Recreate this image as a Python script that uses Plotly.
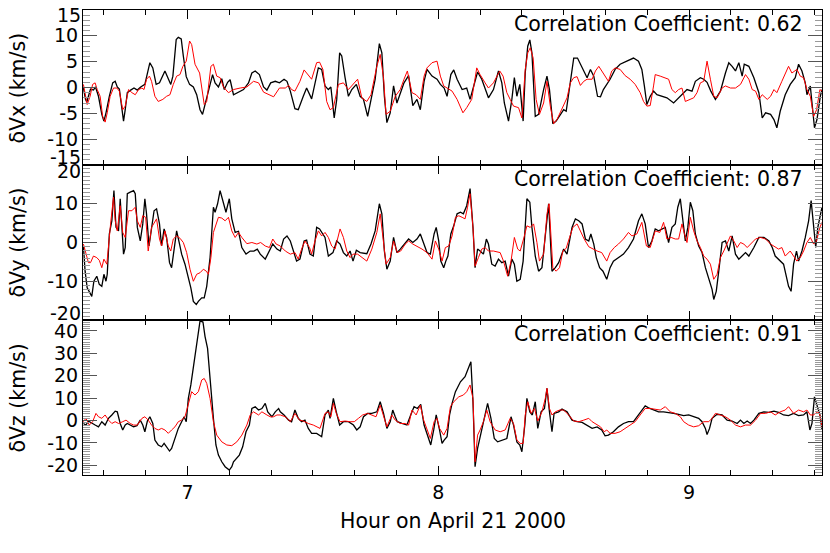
import plotly.graph_objects as go

# Time in minutes after 06:00 UT on April 21 2000, velocity perturbations in km/s.
# Black = observed, red = model.
VX_OBS = [(35.1,-0.1),(35.6,-2.3),(35.9,-2.8),(36.4,-1.4),(36.8,-0.3),(37.5,-0.5),(38.0,0.1),(38.7,-1.7),(39.5,-5.2),(40.0,-6.5),
          (40.5,-4.9),(41.3,-1.7),(42.1,0.9),(42.7,1.2),(43.2,0.1),(43.7,-0.3),(44.3,-4.3),(44.7,-6.5),(45.1,-4.3),(45.6,-1.0),
          (46.4,-0.5),(47.2,-0.1),(48.0,-0.5),(48.8,0.1),(49.8,0.6),(50.2,1.9),(51.0,4.8),(51.7,3.8),(52.5,0.6),(53.3,0.9),
          (54.1,2.5),(54.6,3.2),(55.3,1.9),(56.0,0.6),(56.5,2.2),(57.3,9.3),(57.8,9.7),(58.5,9.4),(59.0,6.1),(59.7,2.1),
          (60.5,0.6),(61.4,0.1),(62.2,-1.4),(63.0,-4.3),(63.6,-5.2),(64.2,-3.3),(65.4,0.9),(66.0,2.5),(66.6,0.9),(67.4,0.1),
          (68.2,1.7),(68.8,-0.4),(69.6,1.0),(70.2,1.5),(71.0,-1.4),(72.0,-1.0),(73.4,-0.4),(74.6,0.9),(75.4,2.8),(76.2,3.2),
          (77.2,2.5),(78.2,0.1),(79.0,-0.5),(79.9,0.9),(81.0,1.2),(82.0,0.9),
          (83.1,1.6),(83.8,1.2),(84.6,-0.7),(85.7,-4.1),(86.5,-4.3),(87.7,-1.7),(88.5,-0.1),(89.7,-2.2),(90.5,0.9),(91.3,3.8),
          (92.1,3.5),(92.9,0.3),(93.7,-0.4),(94.3,0.1),(95.1,-5.9),(95.7,-2.3),(96.4,6.7),(96.9,6.1),(97.7,1.9),(98.5,-1.7),
          (99.3,-0.4),(100.4,0.6),(101.3,-1.7),(102.1,-2.3),(103.1,-5.6),(103.9,-2.3),(104.9,1.6),(105.9,8.5),(106.5,6.7),(107.1,-1.7),
          (107.7,-6.8),(108.5,-4.9),(109.3,0.3),(110.1,-3.0),(110.9,-1.0),(111.8,0.9),(112.9,2.3),(113.9,-3.5),(114.9,-2.3),(115.7,-4.3),
          (116.6,1.2),(117.3,3.5),(118.5,2.2),(119.7,1.6),(120.5,0.6),(121.4,-0.1),(122.1,-1.7),(123.0,2.5),(123.7,3.4),(124.5,1.6),
          (125.7,-0.4),(126.8,-0.1),(127.6,-2.3),(128.4,0.3),(129.4,3.0),(130.4,1.6),(131.2,-0.4),(132.0,-2.0),(133.2,-0.4),(134.4,3.2),
          (135.2,0.9),(135.8,-3.0),(136.8,-6.5),(137.6,-2.3),(138.2,1.9),(138.8,-1.7),(139.5,0.6),(140.3,-6.5),(140.8,2.8),(141.4,8.0),
          (141.9,9.2),(142.4,6.7),(143.2,-5.6),(144.0,-5.2),(145.2,-0.4),(146.0,2.2),(146.6,-0.4),
          (147.4,-7.0),(148.2,-6.5),(149.0,-5.6),(150.0,-4.3),(150.6,-4.6),(151.4,-0.4),(152.4,5.7),(153.3,5.7),(154.4,3.8),(155.6,1.9),
          (156.4,3.5),(157.2,2.2),(158.1,-1.7),(158.8,-1.8),(159.5,-0.4),(160.3,0.6),(161.1,1.6),(162.3,3.5),(163.5,4.5),(165.1,5.1),
          (166.7,5.7),(167.9,5.1),(168.7,3.5),(169.3,0.3),(169.9,-3.3),(170.7,-1.7),(171.5,-0.7),(172.3,-1.4),(173.5,-1.7),(174.7,-2.0),
          (176.3,-3.0),(177.1,-2.3),(178.3,-1.4),(179.5,-0.4),(180.7,-0.7),(181.5,1.2),(182.7,1.9),(183.5,1.6),(184.3,1.0),(185.2,-0.7),
          (186.3,-2.3),(187.5,-0.7),(188.7,2.8),(189.5,4.8),(190.3,4.1),(191.1,3.2),(191.9,4.8),(192.7,2.2),(193.2,4.5),(194.3,4.1),
          (195.5,1.9),(196.7,-1.0),(197.5,-5.9),(198.3,-4.9),(199.5,-5.2),(200.3,-6.2),(201.0,-7.8),(201.8,-4.6),(203.0,-1.4),(204.2,0.6),
          (205.4,1.9),(206.2,4.5),(207.0,3.2),(207.8,0.9),(208.2,-1.4),(209.0,0.3),(210.0,-7.8),(210.6,-6.2),(211.4,-1.7),(211.8,-0.4)]

VX_MOD = [(35.1,0.6),(35.5,-1.0),(36.0,-3.3),(36.7,-1.7),(37.3,0.6),(37.9,0.9),(38.4,-0.4),(39.1,-1.7),(39.7,-5.6),(40.3,-6.7),
          (40.8,-4.9),(41.5,-1.7),(42.3,-0.1),(43.1,-0.1),(43.7,-0.7),(44.5,-4.3),(45.1,-3.6),(45.9,-0.4),(46.7,-1.0),(47.5,-1.4),
          (48.3,-0.4),(49.1,-0.1),(49.6,-0.4),(50.2,1.6),(50.9,2.2),(51.4,1.2),(52.2,-1.7),(53.0,-2.7),(54.1,-2.3),(55.0,-1.7),
          (55.8,-1.4),(56.6,0.6),(57.4,2.2),(58.2,2.5),(58.9,4.1),(59.7,5.1),(60.5,9.0),(61.0,8.3),(61.8,4.5),(62.9,2.8),
          (64.0,-3.3),(64.6,-2.7),(65.6,4.1),(66.2,4.5),(67.0,2.2),(67.8,1.9),(68.6,0.1),(69.8,-1.0),(71.0,-0.4),(72.6,-0.1),
          (74.2,0.1),(75.8,1.2),(77.0,0.9),(78.2,-0.9),(79.0,-1.2),(80.6,-1.8),(82.0,-0.1),
          (83.4,-0.1),(84.2,0.4),(84.9,-0.4),(85.7,-0.7),(86.9,1.2),(87.9,3.4),(88.5,2.8),(89.7,1.6),(90.9,4.8),(91.6,4.9),
          (92.4,3.5),(93.3,-2.7),(94.1,-4.3),(94.9,-3.9),(96.1,0.6),(97.3,0.9),(98.5,-0.4),(99.6,0.6),(100.7,1.6),(101.7,-2.0),
          (102.9,-2.7),(103.9,-1.4),(105.3,4.1),(106.1,6.4),(106.9,1.9),(107.5,-5.2),(108.5,-4.6),(109.7,-1.7),(110.9,-0.4),(111.8,1.6),
          (112.6,3.2),(113.7,-1.0),(114.7,-1.4),(115.7,-2.3),(116.6,2.2),(117.3,3.8),(118.5,4.8),(119.7,5.1),(120.5,2.2),(121.3,0.3),
          (122.1,-0.1),(123.3,-0.7),(124.5,-2.3),(125.9,-4.9),(126.8,-3.9),(128.0,-2.3),(129.2,3.8),(130.0,2.5),(131.2,0.9),(132.0,-0.1),
          (133.2,0.9),(134.7,3.2),(135.5,2.2),(136.4,-1.0),(137.2,-2.3),(138.0,-3.6),(139.2,-3.9),(140.0,-5.9),(140.8,3.5),(141.4,6.7),
          (142.0,7.7),(142.7,5.7),(143.4,-2.3),(144.2,-5.2),(145.2,-3.0),(146.0,1.2),
          (146.8,-3.6),(147.6,-7.0),(148.4,-6.2),(149.2,-4.9),(150.0,-3.6),(150.8,-2.0),(151.6,0.9),(152.4,1.9),(153.2,2.1),(154.0,0.4),
          (154.8,1.2),(155.6,1.6),(156.8,1.6),(157.6,3.2),(158.4,4.1),(159.1,3.2),(159.9,2.2),(160.7,1.2),(161.5,3.2),(162.3,3.8),
          (163.5,3.5),(164.7,2.3),(165.9,1.6),(167.1,0.6),(168.3,-1.0),(169.1,-2.7),(169.9,-3.6),(170.7,-3.5),(171.5,0.3),(171.9,2.5),
          (173.1,2.2),(174.3,1.9),(175.1,1.6),(175.9,-0.4),(176.7,-1.0),(177.5,-0.4),(178.3,-0.1),(179.1,-2.7),(180.3,-2.3),(181.1,-2.0),
          (181.9,-1.0),(182.7,0.9),(183.5,1.2),(184.3,5.1),(185.1,1.6),(185.9,-1.7),(186.7,-2.0),(187.9,-0.1),(188.7,0.3),(189.9,-0.1),
          (191.1,-0.1),(192.3,0.6),(193.5,2.5),(194.3,1.6),(195.1,-0.4),(195.9,-0.7),(196.7,-2.3),(197.5,-1.4),(198.7,-2.3),(199.5,-1.7),
          (200.3,-0.4),(201.0,-1.0),(202.2,1.2),(203.8,4.1),(204.6,2.8),(205.8,3.5),(206.6,2.2),(207.4,1.9),(208.2,-0.4),(209.0,-1.7),
          (209.8,-5.6),(210.5,-4.3),(211.3,-0.4),(211.8,-0.7)]

VY_OBS = [(35.1,-0.9),(35.5,-7.4),(36.0,-11.7),(36.7,-13.4),(37.1,-13.9),(37.6,-10.0),(38.3,-8.7),(38.9,-10.8),(39.5,-11.3),(40.0,-8.2),
          (40.5,-10.0),(40.8,-8.2),(41.3,2.2),(41.9,5.6),(42.4,13.4),(42.9,3.9),(43.5,3.0),(43.9,11.3),(44.3,3.9),(44.7,-3.0),
          (45.1,-1.3),(45.6,12.6),(46.3,13.0),(47.1,13.4),(47.5,12.6),(48.0,3.9),(48.7,0.4),(49.3,4.8),(49.8,11.3),(50.2,7.4),
          (50.8,-0.9),(51.4,4.3),(52.0,8.2),(52.6,8.7),(53.3,4.8),(53.8,-0.9),(54.4,3.5),(55.0,1.3),(55.7,-5.2),(56.2,-6.5),
          (56.8,-2.2),(57.4,3.0),(58.1,-0.4),(58.6,-3.0),(59.4,-5.6),(60.2,-8.7),(60.8,-11.7),(61.4,-15.2),(62.1,-16.0),(62.6,-15.2),
          (63.4,-14.3),(64.0,-14.3),(64.6,-11.3),(65.4,-3.9),(66.2,9.1),(66.6,7.8),(67.2,10.0),(67.8,13.4),(68.4,10.8),(69.2,7.8),
          (70.0,11.3),(70.6,6.1),(71.4,2.6),(72.2,2.9),(73.0,-1.3),(74.0,-3.0),(75.0,-2.2),(75.9,-2.2),(76.7,-1.7),(77.4,-3.0),
          (78.6,-4.3),(79.6,-2.2),(80.4,-0.4),(81.4,-1.7),(82.2,-2.2),
          (83.0,0.9),(83.8,1.7),(84.6,0.4),(85.3,-2.2),(86.1,-4.8),(86.9,-4.3),(87.9,0.4),(88.5,0.6),(89.3,-3.0),(90.1,-3.5),
          (90.9,3.9),(91.6,3.5),(92.1,2.6),(92.9,1.3),(93.7,-3.5),(94.8,-2.6),(95.7,0.4),(96.5,-0.4),(97.3,-2.6),(98.1,-3.5),
          (98.9,-2.2),(99.6,-4.8),(100.4,-2.0),(101.3,-2.6),(102.9,-2.9),(103.9,-0.4),(104.9,3.0),(105.9,10.0),(106.5,7.4),(107.1,-2.2),
          (107.7,-6.9),(108.5,-4.8),(109.3,1.3),(110.1,-2.6),(110.9,-1.7),(111.8,-0.4),(112.9,0.9),(113.9,0.0),(114.9,0.9),(115.7,2.2),
          (116.5,-0.4),(117.3,-2.6),(118.1,-3.0),(119.0,2.2),(119.5,3.9),(120.1,0.4),(120.6,-4.8),(121.3,-6.5),(121.8,-4.8),(122.3,-3.5),
          (123.0,2.2),(123.7,4.3),(124.5,7.4),(125.3,7.8),(126.0,7.4),(126.8,9.5),(127.6,13.9),(128.3,3.9),(128.8,-6.5),(129.4,-1.7),
          (130.0,-2.2),(130.8,-3.0),(131.5,0.9),(132.0,-0.4),(132.8,-5.6),(133.6,-6.1),(134.4,-4.3),(135.2,-5.2),(136.0,-4.8),(136.8,-8.7),
          (137.6,-4.3),(138.2,-5.6),(138.8,-10.0),(139.6,-9.5),(140.3,-4.8),(140.8,6.1),(141.2,11.3),(141.9,10.4),(142.4,3.9),(143.2,-3.5),
          (144.0,-7.4),(144.8,-6.5),(145.6,1.7),(146.0,5.6),(146.4,10.0),
          (147.2,-7.4),(148.0,-6.5),(148.8,-5.2),(149.3,-3.9),(150.0,-1.7),(150.8,-3.0),(151.4,0.4),(152.0,3.9),(152.8,6.1),(153.6,5.6),
          (154.4,4.8),(155.2,0.9),(156.0,0.4),(156.5,2.2),(157.2,-0.4),(157.8,-3.9),(158.6,-6.5),(159.4,-7.4),(160.3,-9.5),(161.1,-6.5),
          (161.9,-4.8),(163.1,-3.9),(164.3,-3.0),(165.5,-1.3),(166.7,0.9),(167.9,5.6),(168.7,7.4),(169.5,4.8),(170.3,-1.3),(171.1,0.4),
          (171.9,3.5),(172.7,3.0),(173.5,3.5),(174.3,3.9),(175.1,0.0),(175.9,3.9),(176.7,4.8),(177.3,9.1),(177.9,11.3),(178.5,5.6),
          (179.1,0.4),(179.7,3.9),(180.3,10.4),(180.9,8.2),(181.5,2.2),(182.3,-0.9),(183.1,-2.6),(183.9,-6.5),(184.7,-9.5),(185.5,-12.1),
          (185.9,-14.7),(186.5,-12.6),(187.1,-7.4),(187.9,0.0),(188.7,0.4),(189.5,-2.2),(190.3,1.7),(191.1,-3.0),(191.9,-4.3),(192.7,-3.5),
          (193.5,-2.6),(194.3,-3.5),(195.5,-1.3),(196.7,1.3),(197.9,1.3),(199.1,0.4),(199.9,-1.3),(200.6,-3.5),(201.4,-4.3),(202.6,-5.6),
          (203.8,-11.3),(204.4,-12.6),(205.0,-5.6),(205.7,-2.2),(206.2,-4.8),(207.0,-2.2),(207.8,1.3),(208.6,5.6),(209.2,10.8),(209.8,3.9),
          (210.3,-1.3),(210.8,3.9),(211.4,7.4),(211.8,9.1)]

VY_MOD = [(35.1,-0.4),(35.7,-3.0),(36.3,-5.2),(36.8,-5.2),(37.5,-3.5),(38.3,-3.9),(38.9,-4.6),(39.5,-6.5),(40.0,-4.3),(40.7,-5.6),
          (41.1,-0.4),(41.6,4.8),(42.3,11.7),(42.7,5.6),(43.2,3.0),(43.9,9.5),(44.5,2.6),(45.1,1.3),(45.9,8.2),(46.7,8.2),
          (47.5,9.1),(48.0,5.6),(48.7,3.9),(49.3,6.9),(50.0,6.5),(50.6,-2.2),(51.4,3.9),(52.0,5.2),(52.6,6.1),(53.3,0.9),
          (53.8,-0.9),(54.6,3.0),(55.4,-0.9),(56.0,-2.2),(56.6,0.9),(57.4,1.7),(58.2,1.1),(59.0,0.0),(59.8,-2.6),(60.6,-6.9),
          (61.4,-10.0),(62.2,-8.2),(63.0,-7.8),(63.8,-6.9),(64.5,-7.4),(65.0,-8.2),(65.6,-3.9),(66.2,2.6),(66.8,4.3),(67.4,6.5),
          (68.2,6.3),(69.0,5.6),(69.8,6.5),(70.6,3.0),(71.4,1.3),(72.2,2.6),(73.0,1.3),(74.2,-0.3),(75.4,0.0),(76.6,-0.4),
          (77.5,0.0),(78.6,-0.9),(79.6,-1.3),(80.4,0.9),(81.2,-0.4),(82.2,-0.9),
          (83.4,-2.2),(84.6,-3.0),(85.7,-2.6),(86.5,-4.3),(87.3,-1.7),(88.1,0.4),(89.2,-1.3),(89.7,-3.0),(90.5,0.4),(91.3,3.0),
          (92.1,1.7),(92.9,2.6),(93.7,1.3),(94.5,-0.9),(95.3,-1.7),(96.5,3.5),(97.3,1.3),(98.1,-2.2),(98.9,-3.9),(99.6,-3.0),
          (100.7,-3.0),(101.7,-3.9),(102.9,-4.8),(104.1,-1.7),(105.3,2.6),(106.1,7.4),(106.9,0.4),(107.5,-5.6),(108.5,-3.9),(109.3,0.4),
          (110.2,-2.6),(111.0,-2.2),(112.1,-0.4),(112.9,0.4),(113.9,-0.4),(114.9,-0.9),(116.1,-1.7),(117.3,-2.6),(118.5,-4.3),(119.3,0.4),
          (120.1,-1.7),(120.9,-4.8),(121.7,-1.3),(122.5,-0.9),(123.3,1.7),(124.1,6.5),(124.9,6.9),(125.7,6.5),(126.4,6.1),(127.0,9.1),
          (127.6,12.6),(128.3,3.9),(128.8,-6.1),(129.6,-3.9),(130.4,-1.7),(131.2,-1.3),(132.0,-2.2),(133.2,-2.2),(134.8,-2.6),(135.6,-4.8),
          (136.6,-8.7),(137.4,-4.8),(138.2,1.3),(139.0,-1.7),(139.6,-2.2),(140.4,0.9),(141.2,4.3),(142.0,3.9),(142.8,4.8),(143.6,0.0),
          (144.2,-4.8),(145.2,-3.0),(146.0,7.4),(146.5,10.0),
          (147.4,-6.5),(148.2,-7.4),(149.0,-6.5),(149.8,-2.2),(150.6,-1.5),(151.4,1.3),(152.2,3.9),(153.2,4.8),(154.0,3.0),(154.9,0.9),
          (156.0,-1.1),(157.0,-1.7),(158.0,-2.2),(159.1,-2.6),(160.3,-4.8),(161.1,-2.6),(162.1,-1.3),(163.1,-0.4),(164.3,0.9),(165.5,2.6),
          (166.3,1.7),(167.5,2.2),(168.7,5.2),(169.8,-0.9),(170.7,-1.3),(171.9,3.0),(173.0,2.6),(173.9,5.2),(174.7,0.9),(175.7,1.3),
          (176.7,0.9),(177.5,0.9),(178.3,4.8),(178.9,2.2),(179.5,0.0),(180.3,6.5),(181.1,3.0),(181.9,0.4),(182.7,-1.3),(183.5,-3.5),
          (184.3,-4.3),(185.1,-5.6),(185.9,-9.5),(186.7,-8.2),(187.5,-3.9),(188.3,-2.2),(189.1,-0.4),(189.9,1.7),(190.7,0.4),(191.5,-1.3),
          (192.3,0.0),(193.1,-0.4),(193.9,-1.3),(194.8,-0.4),(195.9,0.9),(197.1,1.3),(198.3,0.9),(199.5,-0.4),(200.3,-0.9),(201.4,-1.7),
          (202.2,-1.3),(203.0,-3.5),(204.2,-2.2),(205.0,-3.5),(205.8,-4.8),(206.6,-3.9),(207.4,-2.2),(208.2,0.0),(209.0,1.3),(209.8,-0.4),
          (210.5,0.4),(211.3,3.9),(211.8,5.2)]

VZ_OBS = [(35.1,-1.3),(35.7,-2.0),(36.3,-0.2),(37.1,-1.3),(37.9,-2.0),(38.7,-2.8),(39.5,-0.5),(40.3,-2.0),(41.1,1.0),(41.9,2.5),
          (42.7,4.2),(43.2,3.9),(43.9,-1.3),(44.5,-4.2),(45.1,-2.0),(45.6,-1.3),(46.3,-2.0),(47.1,-2.8),(47.9,-2.3),(48.7,0.2),
          (49.3,-2.0),(49.8,-5.0),(50.4,-0.2),(51.0,1.7),(51.7,-1.3),(52.2,-8.7),(53.0,-10.9),(53.8,-11.7),(54.4,-10.2),(55.0,-11.7),
          (55.7,-13.6),(56.2,-12.4),(57.0,-8.0),(57.8,-3.5),(58.6,-0.5),(59.2,1.7),(59.7,-0.5),(60.2,9.9),(60.8,15.9),(61.4,23.3),
          (62.1,32.2),(62.6,39.5),(63.0,44.5),(63.7,44.0),(64.2,37.5),(64.8,32.2),(65.4,17.3),(66.2,1.0),(66.8,-10.9),(67.4,-15.4),
          (68.2,-18.4),(69.0,-20.6),(70.0,-22.1),(70.6,-20.6),(71.0,-18.4),(71.8,-16.9),(72.4,-15.4),(73.2,-11.7),(74.0,-5.0),(74.8,-2.0),
          (75.4,5.4),(76.2,6.2),(77.0,4.7),(77.8,5.4),(78.6,7.7),(79.2,3.9),(80.2,1.7),(81.0,3.9),(81.8,5.4),
          (82.2,3.9),(83.1,2.5),(84.2,0.2),(84.9,-0.5),(85.7,4.7),(86.5,1.0),(87.3,-0.5),(88.1,0.2),(88.9,-3.5),(89.7,-5.7),
          (90.9,-5.7),(92.1,-7.2),(92.9,2.5),(93.7,4.7),(94.1,1.0),(94.9,9.9),(95.6,3.9),(96.4,-2.0),(97.3,-0.5),(98.5,-0.5),
          (99.7,-2.0),(100.5,-4.2),(101.3,-2.8),(102.1,1.7),(103.1,3.2),(104.1,3.2),(105.3,3.9),(106.1,8.4),(106.9,3.2),(107.7,-3.5),
          (108.5,-0.5),(109.1,4.7),(109.7,1.7),(110.2,-0.5),(111.3,-1.3),(112.5,-2.0),(113.4,2.5),(114.2,6.2),(115.0,5.4),(115.8,7.2),
          (116.6,-2.0),(117.3,-5.7),(118.2,-10.9),(118.9,-4.2),(119.5,2.5),(120.3,-4.2),(120.9,-10.2),(121.4,-8.7),(122.1,-7.2),(122.7,2.5),
          (123.3,7.7),(124.1,12.9),(125.3,17.3),(126.4,19.6),(127.2,23.3),(127.8,26.3),(128.3,8.4),(128.8,-20.6),(129.4,-12.4),(130.4,-3.5),
          (131.2,2.5),(131.8,7.7),(132.6,1.0),(133.4,-8.0),(134.2,-9.5),(135.2,-8.7),(136.4,-8.0),(137.4,1.7),(138.0,-2.0),(138.8,-9.5),
          (139.5,-10.9),(140.0,-13.9),(140.7,-2.0),(141.2,9.9),(141.9,3.9),(142.5,2.5),(143.2,8.4),(143.8,-3.5),(144.6,3.9),(145.4,5.4),
          (146.0,14.4),
          (146.6,3.9),(147.2,-5.0),(147.7,3.2),(148.8,3.9),(149.6,5.1),(150.8,3.9),(152.0,0.2),(153.2,-0.5),(154.4,-0.8),(155.6,-2.0),
          (156.8,-3.5),(158.0,-2.8),(159.1,-4.2),(159.9,-6.8),(160.7,-6.5),(161.9,-5.0),(163.1,-2.8),(164.3,-1.3),(165.5,-0.5),(166.7,-0.5),
          (167.9,2.5),(168.7,4.7),(169.5,6.6),(170.3,5.7),(171.5,4.7),(172.7,3.9),(173.9,3.9),(175.1,3.7),(176.3,3.2),(177.5,2.8),
          (178.7,2.2),(179.9,2.5),(181.1,1.7),(182.3,1.0),(183.1,-0.5),(183.9,-3.5),(184.3,-6.2),(184.9,-3.5),(185.5,1.0),(186.7,2.8),
          (187.9,2.5),(189.1,0.2),(190.3,-0.2),(191.5,-1.3),(192.3,0.2),(193.1,-1.3),(193.9,-0.2),(194.7,-1.3),(195.5,0.2),(196.7,3.2),
          (197.9,3.9),(199.1,3.7),(200.3,4.2),(201.4,3.7),(202.6,2.5),(203.8,2.2),(205.0,3.2),(206.2,2.2),(207.4,2.5),(208.2,3.9),
          (208.9,-4.2),(209.4,-1.3),(210.0,10.6),(210.6,6.9),(211.3,2.5),(211.8,-4.2)]

VZ_MOD = [(35.1,-0.5),(35.7,1.0),(36.5,-2.0),(37.3,-0.5),(38.1,3.2),(38.7,1.7),(39.5,1.0),(40.3,2.5),(41.1,0.2),(41.9,-1.3),
          (42.7,-0.5),(43.5,-1.3),(44.5,-0.5),(45.3,0.2),(46.3,-1.3),(47.1,-2.0),(48.0,-2.0),(49.1,1.0),(49.8,1.7),(50.6,0.2),
          (51.4,-2.0),(52.2,-3.5),(53.0,-4.2),(53.8,-3.5),(54.6,-4.2),(55.4,-5.7),(56.2,-4.2),(57.0,-2.8),(57.8,-0.5),(58.6,0.2),
          (59.4,1.7),(60.2,6.9),(61.0,12.9),(61.8,11.4),(62.6,12.9),(63.4,18.1),(64.0,18.8),(64.6,16.6),(65.4,9.9),(66.2,-0.5),
          (67.0,-6.5),(68.2,-9.5),(69.4,-10.9),(70.6,-11.2),(71.8,-9.5),(73.0,-6.5),(74.2,-2.0),(75.0,2.5),(75.8,3.9),(77.0,2.5),
          (77.8,3.9),(79.0,2.5),(79.8,1.7),(80.6,1.7),(81.4,2.5),
          (82.2,2.5),(83.4,1.7),(84.6,-0.5),(85.7,3.2),(86.8,0.2),(87.7,-0.2),(88.9,-1.3),(90.1,-2.0),(91.7,-3.5),(92.9,3.2),
          (93.7,3.9),(94.3,1.7),(94.9,7.7),(95.6,3.2),(96.5,-0.5),(97.7,-0.2),(98.9,-0.5),(99.9,-0.5),(100.9,1.0),(101.9,2.5),
          (103.1,3.2),(104.1,2.5),(105.1,1.7),(106.1,6.9),(106.9,2.5),(107.7,-2.8),(108.9,2.5),(109.7,0.2),(110.9,-1.3),(112.1,-1.3),
          (112.9,-2.0),(113.7,4.7),(114.7,2.5),(115.7,6.9),(116.5,0.2),(117.3,-4.2),(118.1,-8.0),(119.0,-0.5),(119.7,1.0),(120.3,-3.5),
          (121.3,-6.5),(122.1,-3.5),(122.9,6.2),(123.7,8.4),(124.9,10.6),(126.0,11.4),(126.8,12.9),(127.6,15.9),(128.3,9.9),(128.8,-18.4),
          (129.4,-6.5),(130.0,-4.2),(130.8,-0.5),(131.6,4.7),(132.4,-0.5),(133.6,-4.2),(134.8,-5.0),(136.0,-4.2),(137.2,1.0),(138.0,-1.3),
          (138.8,-8.7),(139.6,-10.2),(140.3,-10.2),(140.8,2.5),(141.4,8.4),(142.2,3.2),(143.0,5.4),(143.8,-0.2),(144.8,3.9),(145.6,9.9),
          (146.0,14.4),
          (146.6,5.4),(147.2,2.5),(148.0,3.9),(149.0,4.7),(150.0,4.7),(151.2,2.5),(152.4,-0.2),(153.6,-0.5),(154.8,0.2),(156.0,1.0),
          (156.8,-0.5),(157.6,-1.3),(158.8,-2.8),(159.7,-5.0),(160.3,-4.2),(161.1,-5.7),(162.3,-5.7),(163.5,-5.0),(164.7,-3.5),(165.9,-2.0),
          (167.1,-0.5),(168.3,2.5),(169.5,5.4),(170.7,5.4),(171.9,5.1),(173.1,4.7),(174.3,6.2),(175.5,3.9),(176.7,3.2),(177.9,1.7),
          (178.7,-0.5),(179.9,-2.0),(181.1,-2.8),(182.3,-2.3),(183.5,-0.5),(184.7,-0.5),(185.5,1.0),(186.3,3.2),(187.5,2.5),(188.7,1.7),
          (189.9,0.2),(191.1,-2.0),(192.3,-2.8),(193.5,-2.0),(194.7,-2.0),(195.9,0.2),(197.1,3.2),(198.3,3.2),(199.5,3.9),(200.6,2.5),
          (201.8,3.9),(203.0,4.7),(203.8,6.2),(205.0,3.2),(206.2,4.7),(207.4,3.9),(208.2,4.7),(209.0,2.5),(209.7,2.5),(210.2,3.2),
          (210.8,3.9),(211.3,2.5),(211.8,-2.8)]

PANEL_TITLES = ["δVx (km/s)", "δVy (km/s)", "δVz (km/s)"]
CORRELATIONS = ["0.62", "0.87", "0.91"]
Y_RANGES = [(-15, 15), (-20, 20), (-24.3, 44.9)]
Y_TICKS = [[-15, -10, -5, 0, 5, 10, 15], [-20, -10, 0, 10, 20], [-20, -10, 0, 10, 20, 30, 40]]
# tick labels at the panel edges are drawn nudged inward (value at the label centre)
EDGE_LABELS = [[("15", 14.0), ("-15", -13.4)], [("20", 18.4), ("-20", -18.1)], []]
X_TICKS = [7, 8, 9]
X_RANGE_MIN = (35.0, 211.8)   # minutes after 06:00
X_TITLE = "Hour on April 21 2000"

FONT = "DejaVu Sans"
TICK_SIZE = 19


def to_xy(series):
    return [6 + t / 60.0 for t, _ in series], [v for _, v in series]


fig = go.Figure()
pairs = [(VX_OBS, VX_MOD), (VY_OBS, VY_MOD), (VZ_OBS, VZ_MOD)]
for i, (obs, mod) in enumerate(pairs):
    xs, ys = to_xy(obs)
    xm, ym = to_xy(mod)
    xa = "x" if i == 0 else f"x{i+1}"
    ya = "y" if i == 0 else f"y{i+1}"
    fig.add_trace(go.Scatter(x=xs, y=ys, mode="lines", line=dict(color="black", width=1.3),
                             xaxis=xa, yaxis=ya, showlegend=False, hoverinfo="skip"))
    fig.add_trace(go.Scatter(x=xm, y=ym, mode="lines", line=dict(color="#ff0000", width=1.0),
                             xaxis=xa, yaxis=ya, showlegend=False, hoverinfo="skip"))

xr = [6 + X_RANGE_MIN[0] / 60.0, 6 + X_RANGE_MIN[1] / 60.0]
domains = [[2/3, 1.0], [1/3, 2/3], [0.0, 1/3]]

layout = dict(
    width=830, height=553,
    margin=dict(l=83, r=8, t=10, b=78),
    paper_bgcolor="white", plot_bgcolor="white",
    font=dict(family=FONT, size=TICK_SIZE, color="black"),
    hovermode=False,
)

for i in range(3):
    xk = "xaxis" if i == 0 else f"xaxis{i+1}"
    yk = "yaxis" if i == 0 else f"yaxis{i+1}"
    ya = "y" if i == 0 else f"y{i+1}"
    xa = "x" if i == 0 else f"x{i+1}"
    layout[xk] = dict(
        domain=[0, 1], anchor=ya, range=xr, showgrid=False, zeroline=False,
        showline=True, linecolor="black", linewidth=1, mirror="ticks",
        ticks="inside", ticklen=9, tickcolor="black", tickwidth=1,
        tickvals=X_TICKS, ticktext=[str(v) for v in X_TICKS],
        showticklabels=(i == 2),
        tickfont=dict(family=FONT, size=TICK_SIZE, color="black"),
        minor=dict(ticks="inside", ticklen=5, tick0=7, dtick=1/6, tickcolor="black", showgrid=False),
        automargin=False,
    )
    if i < 2:
        layout[xk]["matches"] = "x3"
    edge_vals = {float(lbl) for lbl, _ in EDGE_LABELS[i]}
    layout[yk] = dict(
        domain=domains[i], anchor=xa, range=list(Y_RANGES[i]), showgrid=False, zeroline=False,
        showline=True, linecolor="black", linewidth=1, mirror="ticks",
        ticks="inside", ticklen=14, tickcolor="#555", tickwidth=1,
        tickvals=Y_TICKS[i], ticktext=["" if v in edge_vals else str(v) for v in Y_TICKS[i]],
        tickfont=dict(family=FONT, size=TICK_SIZE, color="black"),
        minor=dict(ticks="inside", ticklen=7, tick0=0, dtick=1, tickcolor="#999", showgrid=False),
        automargin=False,
    )

fig.update_layout(**layout)

annotations = []
centers = [(d[0] + d[1]) / 2 for d in domains]
for i in range(3):
    ya = "y" if i == 0 else f"y{i+1}"
    annotations.append(dict(text=PANEL_TITLES[i], xref="paper", yref="paper",
                            x=-0.088, y=centers[i], xanchor="center", yanchor="middle",
                            textangle=-90, showarrow=False,
                            font=dict(family=FONT, size=20.5, color="black")))
    annotations.append(dict(text=f"Correlation Coefficient: {CORRELATIONS[i]}", xref="paper", yref="paper",
                            x=0.977, y=domains[i][1] - 0.03, xanchor="right", yanchor="middle",
                            showarrow=False, font=dict(family=FONT, size=20.5, color="black")))
    for lbl, pos in EDGE_LABELS[i]:
        annotations.append(dict(text=lbl, xref="paper", yref=ya, x=0, y=pos,
                                xanchor="right", yanchor="middle", xshift=-1, showarrow=False,
                                borderpad=0, font=dict(family=FONT, size=TICK_SIZE, color="black")))
annotations.append(dict(text=X_TITLE, xref="paper", yref="paper", x=0.5, y=-0.099,
                        xanchor="center", yanchor="middle", showarrow=False,
                        font=dict(family=FONT, size=20.5, color="black")))
fig.update_layout(annotations=annotations)

fig.write_html("out.html", config={"displayModeBar": False},
               post_script="document.body.style.margin='0';document.body.style.padding='0';")
